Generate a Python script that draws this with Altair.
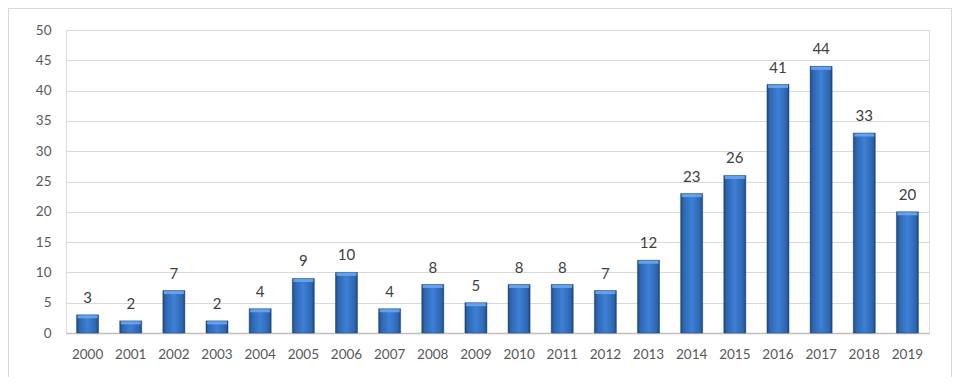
import altair as alt
import pandas as pd

years = [str(y) for y in range(2000, 2020)]
values = [3, 2, 7, 2, 4, 9, 10, 4, 8, 5, 8, 8, 7, 12, 23, 26, 41, 44, 33, 20]

df = pd.DataFrame({"year": years, "value": values})

FONT = "Lato"

grad = alt.Gradient(
    gradient="linear",
    x1=0, x2=1, y1=0, y2=0,
    stops=[
        alt.GradientStop(offset=0, color="#1d4579"),
        alt.GradientStop(offset=0.12, color="#2d66b0"),
        alt.GradientStop(offset=0.5, color="#3d80d6"),
        alt.GradientStop(offset=0.88, color="#2d66b0"),
        alt.GradientStop(offset=1, color="#1d4579"),
    ],
)

x = alt.X("year:N", sort=None, title=None,
          scale=alt.Scale(paddingInner=0.49, paddingOuter=0.245),
          axis=alt.Axis(labelAngle=0, labelFont=FONT, labelFontSize=13.5,
                        labelColor="#595959", ticks=False, labelPadding=14,
                        domainColor="#bfbfbf", domainWidth=1.5, grid=False))
y = alt.Y("value:Q", title=None,
          scale=alt.Scale(domain=[0, 50]),
          axis=alt.Axis(values=list(range(0, 51, 5)), labelFont=FONT,
                        labelFontSize=13.5, labelColor="#595959", ticks=False,
                        domain=False, labelPadding=15, gridColor="#d9d9d9",
                        gridWidth=1, labelOverlap=False))

frame = alt.Chart(df).mark_rect(
    fill=None, stroke="#d9d9d9", strokeWidth=1, clip=False
).encode(
    x=alt.value(-57.5), x2=alt.value(885.5), y=alt.value(-21.5), y2=alt.value(347.5)
)

bars = alt.Chart(df).mark_bar(fill=grad, stroke="#1d4579", strokeWidth=0.5).encode(x=x, y=y)

bevel = alt.Chart(df).mark_tick(
    color="#6aa6ee", thickness=3, size=20, yOffset=2, opacity=0.9
).encode(x=x, y=y)

labels = alt.Chart(df).mark_text(
    baseline="alphabetic", dy=-12, font=FONT, fontSize=15, color="#404040"
).encode(x=x, y=y, text="value:Q")

chart = alt.layer(frame, bars, bevel, labels).properties(
    width=863, height=303,
    padding={"left": 58, "top": 22, "right": 24, "bottom": 44},
    autosize=alt.AutoSizeParams(type="none"),
).configure_view(stroke=None).configure(background="white")

chart.save("out.html", embed_options={"renderer": "svg", "actions": False})
